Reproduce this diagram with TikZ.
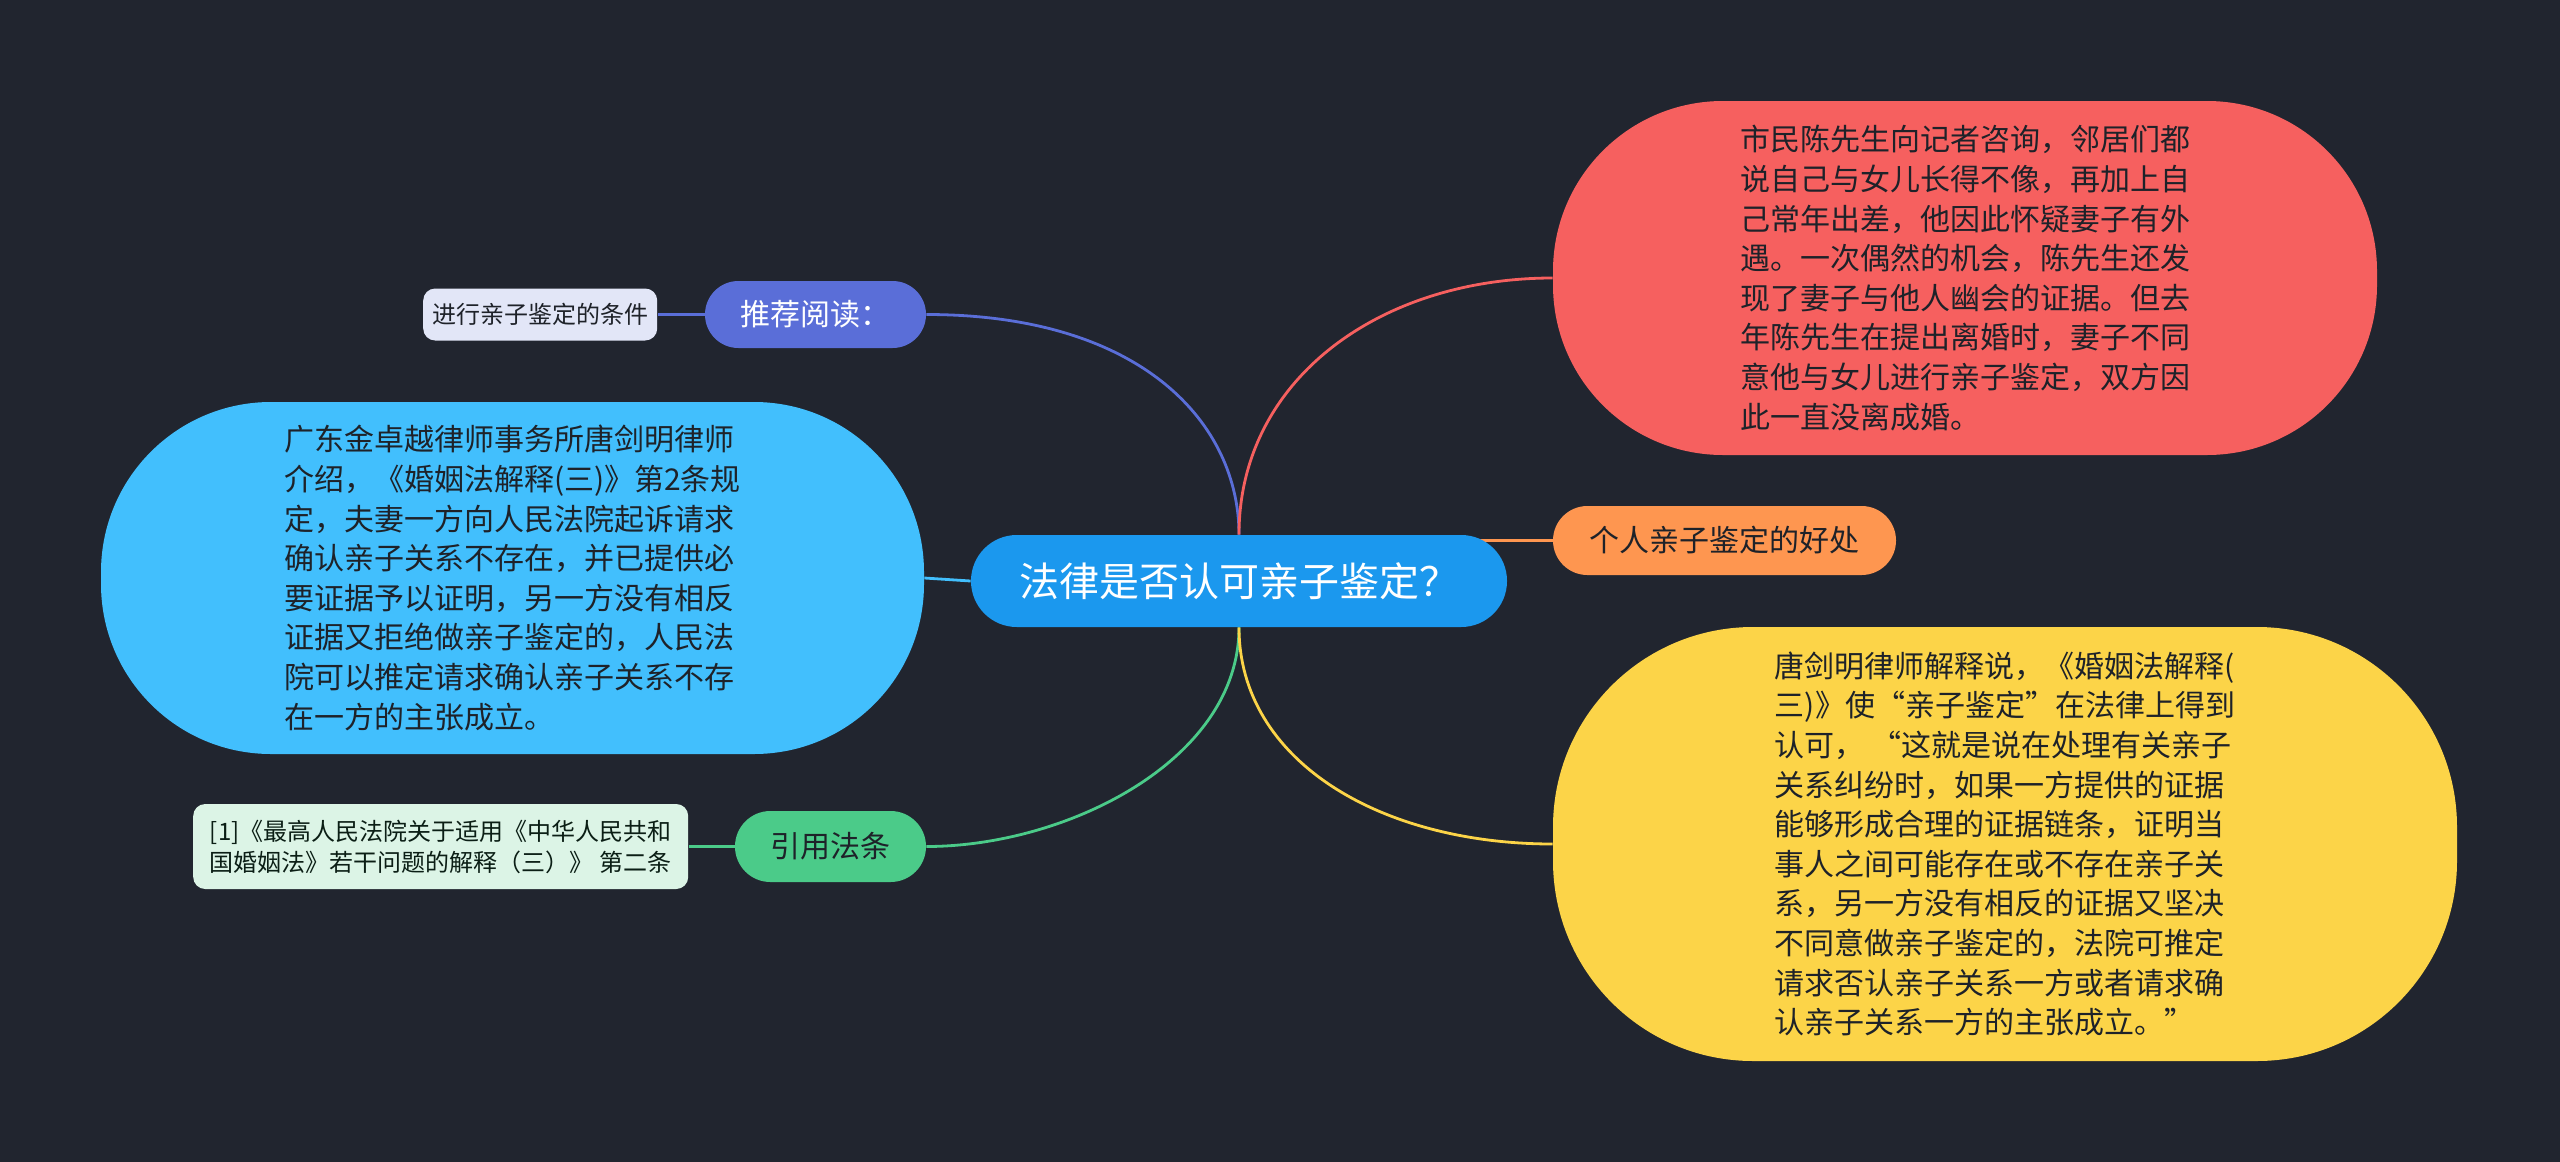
\documentclass[tikz,border=0pt]{standalone}
\usepackage{fontspec}
\setmainfont{Noto Sans CJK SC}
\usetikzlibrary{positioning,backgrounds}

\definecolor{bgdark}{HTML}{21252F}
\definecolor{rootblue}{HTML}{1B98EE}
\definecolor{readblue}{HTML}{5A6ED8}
\definecolor{readleaf}{HTML}{E2E6F7}
\definecolor{skyblue}{HTML}{42BFFD}
\definecolor{lawgreen}{HTML}{4BCB89}
\definecolor{lawleaf}{HTML}{DCF4E6}
\definecolor{storyred}{HTML}{F6605F}
\definecolor{goodorange}{HTML}{FE9650}
\definecolor{sayyellow}{HTML}{FCD448}
\definecolor{inkdark}{HTML}{1E2229}

\tikzset{
  root/.style={fill=rootblue,text=white,inner sep=0pt,minimum width=268pt,minimum height=46pt,
    rounded corners=22.9pt,font={\fontsize{20}{24}\selectfont}},
  branch/.style={fill=#1,inner sep=0pt,minimum height=34.5pt,rounded corners=17.2pt,
    text=inkdark,font={\fontsize{15}{18}\selectfont}},
  bubble/.style={fill=#1,inner sep=0pt,align=left,text=inkdark,
    font={\fontsize{15}{19.8}\selectfont}},
  leaf/.style={fill=#1,inner sep=0pt,rounded corners=6pt,align=left,text=inkdark,
    font={\fontsize{12}{15.5}\selectfont}},
  link/.style={draw=#1,line width=1.4pt}
}

\begin{document}
\begin{tikzpicture}[x=0.5pt,y=-0.5pt]
\useasboundingbox (0,0) rectangle (2560,1162);

\node[root] (root) at (1239,581) {法律是否认可亲子鉴定？};

\node[branch=readblue,text=white,minimum width=110.5pt,minimum height=33.5pt,rounded corners=16.7pt] (read) at (815.5,314.5) {推荐阅读：};
\node[leaf=readleaf,minimum width=117pt,minimum height=26pt,align=center,left=23.5pt of read] (readleaf) {进行亲子鉴定的条件};

\node[bubble=skyblue,minimum width=411.5pt,minimum height=176pt,rounded corners=85pt] (court) at (512.5,578) {%
广东金卓越律师事务所唐剑明律师\\
介绍，《婚姻法解释(三)》第2条规\\
定，夫妻一方向人民法院起诉请求\\
确认亲子关系不存在，并已提供必\\
要证据予以证明，另一方没有相反\\
证据又拒绝做亲子鉴定的，人民法\\
院可以推定请求确认亲子关系不存\\
在一方的主张成立。};

\node[branch=lawgreen,minimum width=95.5pt,minimum height=35.5pt,rounded corners=17.7pt] (law) at (830.5,846.5) {引用法条};
\node[leaf=lawleaf,text=black!75!lawgreen!60!black,minimum width=247.5pt,minimum height=42.5pt,left=23pt of law] (lawleaf) {%
[1]《最高人民法院关于适用《中华人民共和\\
国婚姻法》若干问题的解释（三）》 第二条};

\node[bubble=storyred,minimum width=412pt,minimum height=177pt,rounded corners=85pt] (story) at (1965,278) {%
市民陈先生向记者咨询，邻居们都\\
说自己与女儿长得不像，再加上自\\
己常年出差，他因此怀疑妻子有外\\
遇。一次偶然的机会，陈先生还发\\
现了妻子与他人幽会的证据。但去\\
年陈先生在提出离婚时，妻子不同\\
意他与女儿进行亲子鉴定，双方因\\
此一直没离成婚。};

\node[branch=goodorange,minimum width=171.5pt] (good) at (1724.5,540.5) {个人亲子鉴定的好处};

\node[bubble=sayyellow,minimum width=452pt,minimum height=217pt,rounded corners=100pt] (say) at (2005,844) {%
唐剑明律师解释说，《婚姻法解释(\\
三)》使“亲子鉴定”在法律上得到\\
认可，\ “这就是说在处理有关亲子\\
关系纠纷时，如果一方提供的证据\\
能够形成合理的证据链条，证明当\\
事人之间可能存在或不存在亲子关\\
系，另一方没有相反的证据又坚决\\
不同意做亲子鉴定的，法院可推定\\
请求否认亲子关系一方或者请求确\\
认亲子关系一方的主张成立。”};

\begin{scope}[on background layer]
\fill[bgdark] (0,0) rectangle (2560,1162);
\draw[link=readblue] (read.east) .. controls +(217,0) and +(0,-110) .. (root.north);
\draw[link=readblue] (read.west) -- (readleaf.east);
\draw[link=skyblue] (court.east) -- (root.west);
\draw[link=lawgreen] (root.south) .. controls +(0,133) and +(140,0) .. (law.east);
\draw[link=lawgreen] (law.west) -- (lawleaf.east);
\draw[link=storyred] (root.north) .. controls +(0,-155) and +(-173,0) .. (story.west);
\draw[link=goodorange] (good.west) -- (good.west -| root.center);
\draw[link=sayyellow] (root.south) .. controls +(0,133) and +(-173,0) .. (say.west);
\end{scope}
\end{tikzpicture}
\end{document}
